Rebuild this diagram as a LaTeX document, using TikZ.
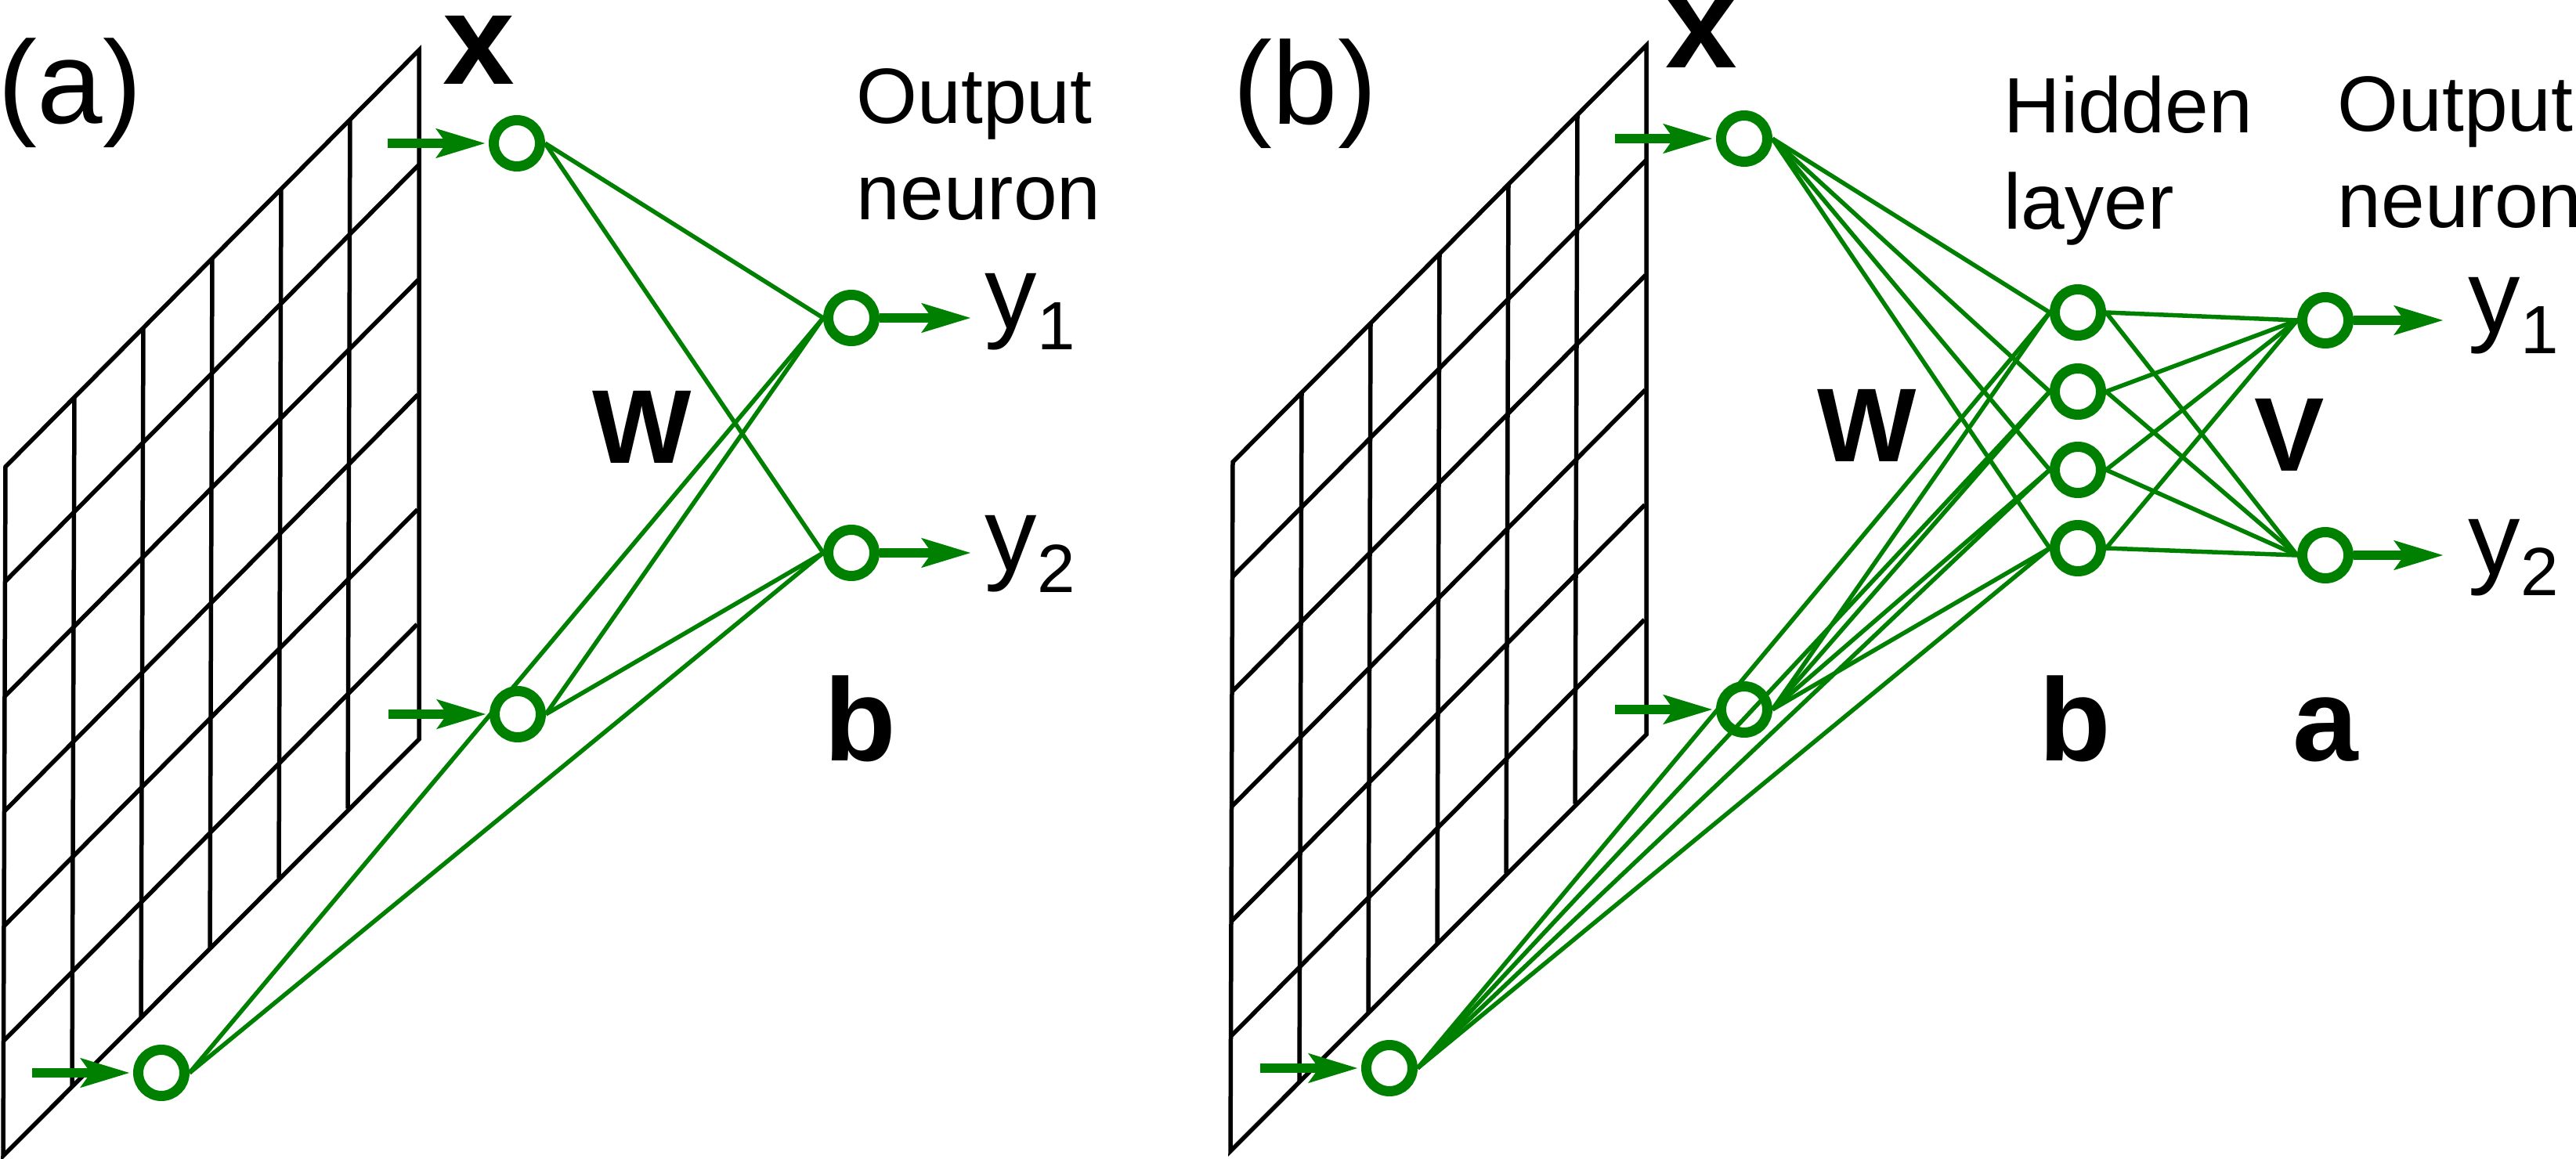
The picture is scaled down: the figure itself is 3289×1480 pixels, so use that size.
\documentclass[tikz,border=0pt]{standalone}
\usepackage{fontspec}
\setmainfont{Liberation Sans}
\usetikzlibrary{arrows.meta}
\usetikzlibrary{positioning}
\definecolor{netgreen}{RGB}{0,128,0}
\newcommand{\outsub}[1]{\raisebox{-2.7mm}{\fontsize{24.8}{28}\selectfont #1}}
\tikzset{
  neuron/.style={circle, draw=netgreen, line width=1.3mm, minimum size=5.9mm, inner sep=0},
  link/.style={netgreen, line width=0.55mm},
  arrow/.style={-{Stealth[length=6.2mm,width=3.6mm,inset=1.2mm]}, netgreen, line width=1.2mm},
  retina/.style={black, line width=0.55mm},
  lbl/.style={anchor=base west, inner sep=0},
  panel/.style={lbl, font=\fontsize{42.7}{50}\selectfont},
  caption/.style={lbl, align=left, font=\fontsize{28.5}{35}\selectfont},
  inlbl/.style={lbl, font=\fontsize{46.9}{55}\selectfont\bfseries},
  vec/.style={lbl, font=\fontsize{42.7}{50}\selectfont\bfseries},
  mat/.style={lbl, font=\fontsize{38.1}{45}\selectfont\bfseries},
  outlbl/.style={lbl, font=\fontsize{37.8}{45}\selectfont}
}

\begin{document}
\begin{tikzpicture}[x=0.1mm, y=-0.1mm]
  \useasboundingbox (0,0) rectangle (3289,1480);

  \foreach \gx/\gy in {7/596, 1574/590} {
    \draw[retina] (\gx,\gy) -- ({\gx+528},{\gy-532}) -- ({\gx+528},{\gy+348}) -- ({\gx-3},{\gy+880}) -- cycle;
    \foreach \i in {1,...,5} {
      \draw[retina] ({\gx+88*\i},{\gy-532/6*\i}) -- ({\gx-3+88*\i},{\gy+880-532/6*\i});
      \draw[retina] ({\gx-0.5*\i},{\gy+880/6*\i}) -- ({\gx+528-0.5*\i},{\gy-532+880/6*\i});
    }
  }

  \node[neuron] (ia1) at (660,183) {};
  \node[neuron] (ia2) at (661,912) {};
  \node[neuron] (ia3) at (206,1370) {};
  \node[neuron] (oa1) at (1087,406) {};
  \node[neuron] (oa2) at (1087,706) {};

  \node[neuron] (ib1) at (2227,177) {};
  \node[neuron] (ib2) at (2227,906) {};
  \node[neuron] (ib3) at (1774,1364) {};
  \foreach \k/\hy in {1/399, 2/500, 3/600, 4/700}
    \node[neuron] (hb\k) at (2653,\hy) {};
  \node[neuron] (ob1) at (2969,409) {};
  \node[neuron] (ob2) at (2969,709) {};

  \foreach \i in {1,2,3}
    \foreach \o in {1,2}
      \draw[link] (ia\i.east) -- (oa\o.west);
  \foreach \i in {1,2,3}
    \foreach \h in {1,...,4}
      \draw[link] (ib\i.east) -- (hb\h.west);
  \foreach \h in {1,...,4}
    \foreach \o in {1,2}
      \draw[link] (hb\h.east) -- (ob\o.west);

  \foreach \n in {ia1, ia2, ia3, ib1, ib2, ib3} {
    \coordinate[left=12.9mm of \n] (s\n);
    \draw[arrow, shorten >=0.4mm] (s\n) -- (\n);
  }
  \foreach \n/\len in {oa1/11.7mm, oa2/11.7mm, ob1/11.5mm, ob2/11.5mm} {
    \coordinate[right=\len of \n] (t\n);
    \draw[arrow] (\n) -- (t\n);
  }

  \node[panel] (pa) at (-3,158) {(a)};
  \node[inlbl] (xa) at (565,108) {x};
  \node[mat] (wa) at (756,592) {W};
  \node[vec] (ba) at (1052,972) {b};
  \node[caption] (ca) at (1093,281) {Output\\neuron};
  \node[outlbl] (ya1) at (1257,420) {y\outsub{1}};
  \node[outlbl] (ya2) at (1257,729) {y\outsub{2}};

  \node[panel] (pb) at (1574,159) {(b)};
  \node[inlbl] (xb) at (2126,87) {x};
  \node[mat] (wb) at (2320,590) {W};
  \node[mat] (vb) at (2878,602) {V};
  \node[vec] (bb) at (2603,971) {b};
  \node[vec] (ab) at (2927,971) {a};
  \node[caption] (hl) at (2558,293) {Hidden\\layer};
  \node[caption] (cb) at (2984,291) {Output\\neuron};
  \node[outlbl] (yb1) at (3151,425) {y\outsub{1}};
  \node[outlbl] (yb2) at (3151,734) {y\outsub{2}};
\end{tikzpicture}
\end{document}
